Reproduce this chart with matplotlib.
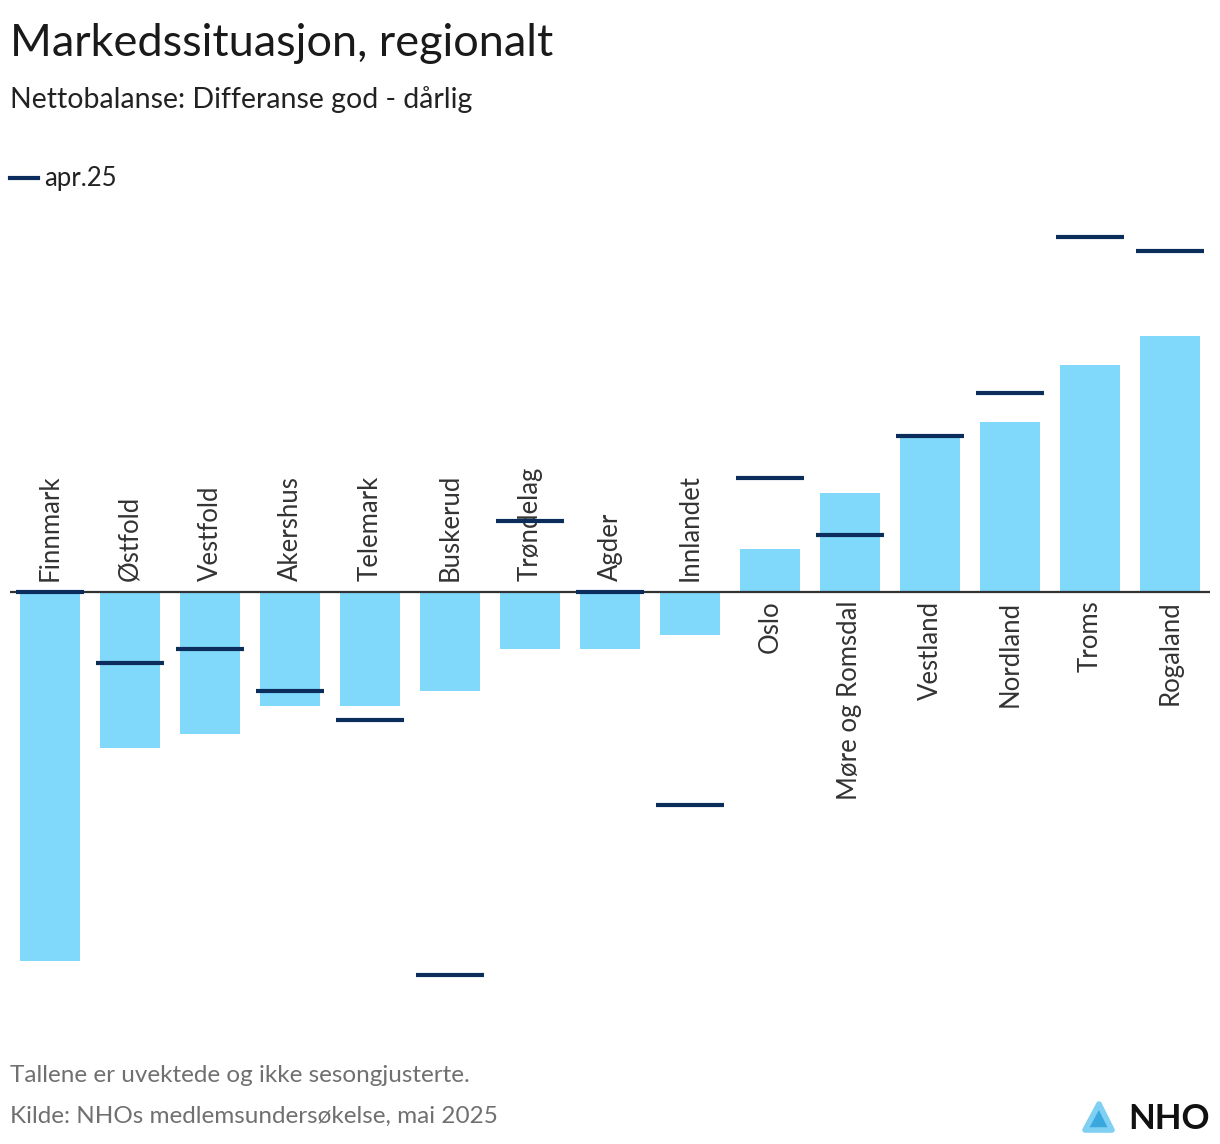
import matplotlib
matplotlib.use("Agg")
import matplotlib.pyplot as plt
from matplotlib.patches import Polygon

plt.rcParams['font.family'] = ['Lato', 'DejaVu Sans']

categories = ["Finnmark", "Østfold", "Vestfold", "Akershus", "Telemark", "Buskerud",
              "Trøndelag", "Agder", "Innlandet", "Oslo", "Møre og Romsdal", "Vestland",
              "Nordland", "Troms", "Rogaland"]
current = [-26, -11, -10, -8, -8, -7, -4, -4, -3, 3, 7, 11, 12, 16, 18]
apr25 = [0, -5, -4, -7, -9, -27, 5, 0, -15, 8, 4, 11, 14, 25, 24]

W, H = 1220, 1144
fig = plt.figure(figsize=(W / 100, H / 100), dpi=100)

# axes placed in pixel coords: x 10..1210, y 200..1010 (top..bottom)
ax = fig.add_axes([10 / W, 1 - 1010 / H, 1200 / W, 810 / H])
ax.set_xlim(-0.5, len(categories) - 0.5)
scale = 14.2
ax.set_ylim(-(1010 - 592) / scale, (592 - 200) / scale)
ax.axis('off')

x = range(len(categories))
ax.bar(x, current, width=0.75, color='#80D8FA', zorder=1)
ax.axhline(0, color='#333333', lw=1.6, zorder=2)
ax.hlines(apr25, [i - 0.42 for i in x], [i + 0.42 for i in x], color='#0B2D5B', lw=3, zorder=3)

for i, (c, v) in enumerate(zip(categories, current)):
    if v < 0:
        ax.text(i, 0.75, c, rotation=90, ha='center', va='bottom', fontsize=18.5,
                color='#333333', zorder=2.5)
    else:
        ax.text(i, -0.6, c, rotation=90, ha='center', va='top', fontsize=18.5,
                color='#333333', zorder=2.5)

fig.text(10 / W, 1 - 56 / H, "Markedssituasjon, regionalt", fontsize=32.5, color='#1a1a1a',
         ha='left', va='baseline')
fig.text(10 / W, 1 - 108 / H, "Nettobalanse: Differanse god - dårlig", fontsize=20.5,
         color='#222222', ha='left', va='baseline')

# legend
fig.add_artist(plt.Line2D([10 / W, 38 / W], [1 - 178 / H, 1 - 178 / H], color='#0B2D5B', lw=3))
fig.text(44 / W, 1 - 186 / H, "apr.25", fontsize=18.5, color='#222222', ha='left', va='baseline')

fig.text(10 / W, 1 - 1082 / H, "Tallene er uvektede og ikke sesongjusterte.", fontsize=17.5,
         color='#707070', ha='left', va='baseline')
fig.text(10 / W, 1 - 1123 / H, "Kilde: NHOs medlemsundersøkelse, mai 2025", fontsize=17.5,
         color='#707070', ha='left', va='baseline')

# NHO logo
tri = Polygon([[1085 / W, 1 - 1130 / H], [1112 / W, 1 - 1130 / H], [1099 / W, 1 - 1104 / H]],
              closed=True, transform=fig.transFigure, facecolor='#3AA7DF', edgecolor='#7FD0F2',
              lw=4, joinstyle='round')
fig.add_artist(tri)
fig.text(1210 / W, 1 - 1129 / H, "NHO", fontsize=25, fontweight='bold', color='#111111',
         ha='right', va='baseline')

fig.savefig("out.png", dpi=100)
